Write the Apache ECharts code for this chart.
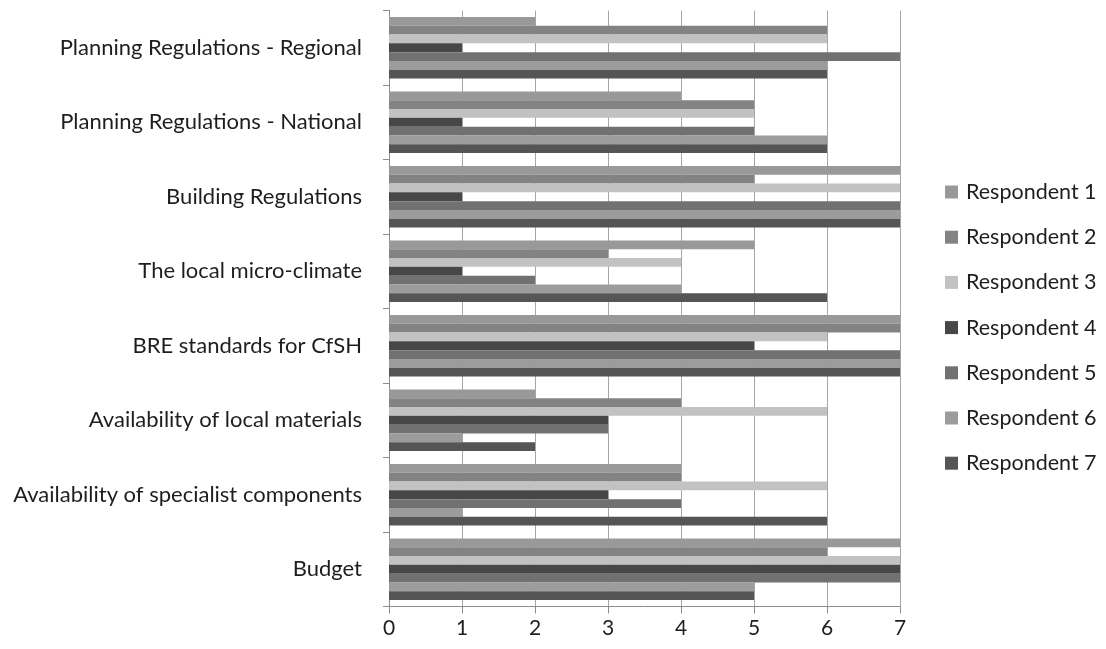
<!DOCTYPE html>
<html>
<head>
<meta charset="utf-8">
<script src="https://cdn.jsdelivr.net/npm/echarts@6/dist/echarts.min.js"></script>
<style>
  html, body { margin: 0; padding: 0; background: #fff; }
  #chart { width: 1106px; height: 649px; }
</style>
</head>
<body>
<div id="chart"></div>
<script>
// Factors, listed top to bottom
const categories = [
  'Planning Regulations - Regional',
  'Planning Regulations - National',
  'Building Regulations',
  'The local micro-climate',
  'BRE standards for CfSH',
  'Availability of local materials',
  'Availability of specialist components',
  'Budget'
];

const seriesNames = [
  'Respondent 1', 'Respondent 2', 'Respondent 3', 'Respondent 4',
  'Respondent 5', 'Respondent 6', 'Respondent 7'
];

// Scores per respondent, in the same order as categories
const respondent1 = [2, 4, 7, 5, 7, 2, 4, 7];
const respondent2 = [6, 5, 5, 3, 7, 4, 4, 6];
const respondent3 = [6, 5, 7, 4, 6, 6, 6, 7];
const respondent4 = [1, 1, 1, 1, 5, 3, 3, 7];
const respondent5 = [7, 5, 7, 2, 7, 3, 4, 7];
const respondent6 = [6, 6, 7, 4, 7, 1, 1, 5];
const respondent7 = [6, 6, 7, 6, 7, 2, 6, 5];

const xTicks = [0, 1, 2, 3, 4, 5, 6, 7];

const values = [respondent1, respondent2, respondent3, respondent4,
                respondent5, respondent6, respondent7];
const colors = ['#999999', '#838383', '#c2c2c2', '#474747',
                '#717171', '#9c9c9c', '#555555'];

const font = 'Lato, "Open Sans", sans-serif';
const chart = echarts.init(document.getElementById('chart'), null, { renderer: 'canvas' });

chart.setOption({
  animation: false,
  backgroundColor: '#ffffff',
  color: colors,
  grid: { left: 389, right: 206, top: 10.5, bottom: 42.5, containLabel: false },
  legend: {
    orient: 'vertical',
    left: 945,
    top: 181,
    padding: 0,
    itemWidth: 13,
    itemHeight: 13,
    itemGap: 23.2,
    icon: 'rect',
    data: seriesNames,
    textStyle: { fontFamily: font, fontSize: 21.5, lineHeight: 22, color: '#1e1e1e', padding: [0, 0, 0, 3] }
  },
  xAxis: {
    type: 'value',
    min: xTicks[0],
    max: xTicks[xTicks.length - 1],
    interval: 1,
    axisLine: { show: true, lineStyle: { color: '#8c8c8c', width: 1 } },
    axisTick: { show: true, length: 7, lineStyle: { color: '#8c8c8c' } },
    splitLine: { show: true, lineStyle: { color: '#a6a6a6', width: 1 } },
    axisLabel: { fontFamily: font, fontSize: 21, color: '#1e1e1e', margin: 11 }
  },
  yAxis: {
    type: 'category',
    inverse: true,
    data: categories,
    axisLine: { show: true, lineStyle: { color: '#8c8c8c', width: 1 } },
    axisTick: { show: true, length: 6, lineStyle: { color: '#8c8c8c' } },
    axisLabel: { fontFamily: font, fontSize: 22, color: '#1e1e1e', margin: 27 }
  },
  series: seriesNames.map((name, i) => ({
    name,
    type: 'bar',
    data: values[i],
    barGap: '0%',
    barCategoryGap: '17.6%',
    itemStyle: { color: colors[i] }
  }))
});
</script>
</body>
</html>
